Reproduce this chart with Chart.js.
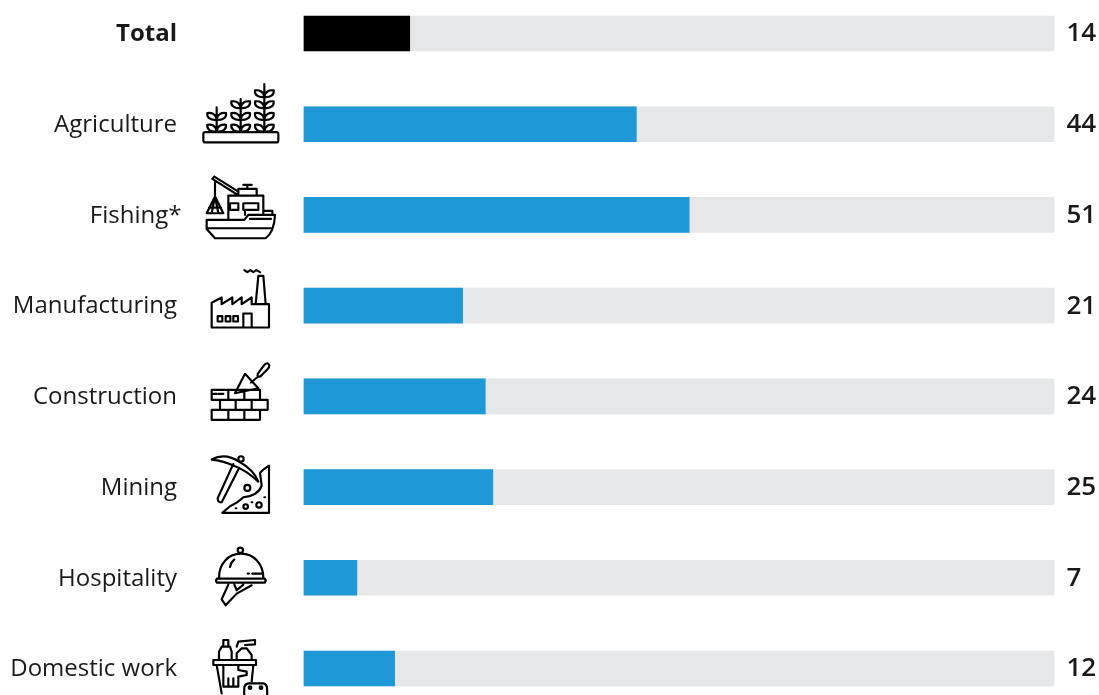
<!DOCTYPE html>
<html>
<head>
<meta charset="utf-8">
<style>
  html, body { margin: 0; padding: 0; background: #fff; overflow: hidden; }
  #wrap { position: relative; width: 1099px; height: 695px; }
</style>
<script src="https://cdn.jsdelivr.net/npm/chart.js@4"></script>
</head>
<body>
<div id="wrap"><canvas id="chart" width="1099" height="695"></canvas></div>
<script>
const categories = ['Total', 'Agriculture', 'Fishing*', 'Manufacturing', 'Construction', 'Mining', 'Hospitality', 'Domestic work'];
const shares = [14, 44, 51, 21, 24, 25, 7, 12];
const trackValues = [99.3, 99.3, 99.3, 99.3, 99.3, 99.3, 99.3, 99.3];
const barColors = ['#000000', '#1e98d7', '#1e98d7', '#1e98d7', '#1e98d7', '#1e98d7', '#1e98d7', '#1e98d7'];

// Leaf pair on a plant stem; drawing units are thirds of a pixel.
function leaves(x, y) {
  return `M${x} ${y + 12}C${x - 2} ${y - 6} ${x - 16} ${y - 10} ${x - 28} ${y - 8}C${x - 30} ${y + 6} ${x - 18} ${y + 14} ${x} ${y + 12}Z` +
         `M${x} ${y + 12}C${x + 2} ${y - 6} ${x + 16} ${y - 10} ${x + 28} ${y - 8}C${x + 30} ${y + 6} ${x + 18} ${y + 14} ${x} ${y + 12}Z`;
}
function circle(x, y, r) {
  return `M${x + r} ${y}A${r} ${r} 0 1 0 ${x - r} ${y}A${r} ${r} 0 1 0 ${x + r} ${y}Z`;
}

// Sector pictograms, each with its vertical offset from the row centre.
const icons = {
  Agriculture: { dy: -49.5, d:
    'M31 172H244Q250 172 250 178V197Q250 203 244 203H31Q25 203 25 197V178Q25 172 31 172Z' +
    'M65 98V172M137 73V172M208 28V172' +
    leaves(65, 123) + leaves(65, 158) +
    leaves(137, 88) + leaves(137, 123) + leaves(137, 158) +
    leaves(208, 55) + leaves(208, 88) + leaves(208, 123) + leaves(208, 158) },
  'Fishing*': { dy: -140, d:
    'M35 435V462L60 490H212Q238 470 240 420H160L148 435Z' +
    'M38 460H228M150 420V407M100 430V362H205V408' +
    'M130 362V342H185V362M157 342V330M145 330H170' +
    'M105 385H130V405H105ZM145 385H190V405H145Z' +
    'M52 312L125 358M58 305L130 350M52 312L58 305' +
    'M60 322V365L35 415H85L60 365M60 365L50 415M60 365L70 415M42 398H78' +
    'M165 432H228M205 420V408H232V420' },
  Manufacturing: { dy: -45.5, d:
    'M50 202V128L80 112V132L112 112V132L140 112V132L170 112V132H222V202Z' +
    'M182 132L190 47H205L212 132' +
    'M148 30L157 36L166 30L175 36L184 30L195 36' +
    'M68 168H82V184H68ZM92 168H106V184H92ZM115 168H129V184H115Z' +
    'M145 202V160H170V202' },
  Construction: { dy: -136.5, d:
    'M50 390H195V420H50ZM75 420H218V450H75ZM50 450H195V480H50Z' +
    'M100 390V420M148 390V420M122 420V450M170 420V450M100 450V480M148 450V480' +
    'M150 342L120 400L190 385Z' +
    'M168 368L190 350' +
    'M188 342L208 315Q218 306 223 316Q224 322 216 330L196 350Q186 352 188 342Z' +
    'M55 402H65M70 402H85' },
  Mining: { dy: -41.5, d:
    'M50 42Q90 20 135 50Q175 72 190 108Q150 72 120 62Q85 45 50 42Z' +
    'M115 55L68 158Q68 172 80 170L132 68' +
    circle(138, 40, 8) +
    'M222 60V202H82L105 182Q130 170 145 155Q190 150 200 120L195 82L205 72Z' +
    circle(157, 127, 9) + circle(152, 183, 7) + circle(192, 178, 8) +
    'M122 188H124M170 170H172M208 155H210' },
  Hospitality: { dy: -132.5, d:
    'M72 398C72 355 100 325 138 325C176 325 205 355 205 398' +
    circle(136, 315, 8) +
    'M66 400H209Q215 406 209 412H66Q60 406 66 400Z' +
    'M105 365Q108 350 118 343M158 385H162M172 385H200' +
    'M100 418L80 462L92 480L125 445L170 420M118 418L125 435L145 418' },
  'Domestic work': { dy: -43.5, d:
    'M55 105H183V120H55Z' +
    'M65 120L80 205M175 120L170 170' +
    'M85 45H100V65H85ZM80 65H105L110 80V105H72V80Z' +
    'M125 65L130 50L180 45V58L150 60M125 105V85L140 70H155L170 90V105' +
    'M85 120V185H130V155L155 150V140L130 135V120' +
    'M100 160V185M115 160V185' },
};

// Sponge sits in front of the bucket, so it is filled white.
const spongePath = 'M160 175H205Q218 178 216 195Q218 205 215 215H150Q146 205 148 195Q146 178 160 175Z' +
                   circle(165, 188, 4) + circle(198, 188, 4);

const sectorIcons = {
  id: 'sectorIcons',
  afterDraw(chart) {
    const { ctx } = chart;
    const meta = chart.getDatasetMeta(1);
    ctx.save();
    ctx.lineJoin = 'round';
    ctx.lineCap = 'round';
    ctx.strokeStyle = '#000';
    categories.forEach((name, i) => {
      const icon = icons[name];
      if (!icon) return;
      ctx.save();
      ctx.translate(195, meta.data[i].y + icon.dy);
      ctx.scale(1 / 3, 1 / 3);
      ctx.lineWidth = 6.5;
      ctx.stroke(new Path2D(icon.d));
      if (name === 'Domestic work') {
        const sponge = new Path2D(spongePath);
        ctx.fillStyle = '#fff';
        ctx.fill(sponge);
        ctx.stroke(sponge);
      }
      ctx.restore();
    });
    ctx.restore();
  }
};

// Category names sit right-aligned in the left gutter; the footnote asterisk hangs past the edge.
const categoryLabels = {
  id: 'categoryLabels',
  afterDatasetsDraw(chart) {
    const { ctx } = chart;
    const yScale = chart.scales.y;
    ctx.save();
    ctx.fillStyle = '#1a1a1a';
    ctx.textAlign = 'right';
    ctx.textBaseline = 'middle';
    categories.forEach((name, i) => {
      ctx.font = `${i === 0 ? 700 : 400} 24px "Open Sans"`;
      const hang = name.endsWith('*') ? 4.5 : 0;
      ctx.fillText(name, 177 + hang, yScale.getPixelForTick(i) + 1);
    });
    ctx.restore();
  }
};

const valueLabels = {
  id: 'valueLabels',
  afterDatasetsDraw(chart) {
    const { ctx } = chart;
    const meta = chart.getDatasetMeta(1);
    ctx.save();
    ctx.font = '600 26px "Open Sans"';
    ctx.fillStyle = '#1a1a1a';
    ctx.textAlign = 'left';
    ctx.textBaseline = 'middle';
    shares.forEach((v, i) => ctx.fillText(String(v), 1066.5, meta.data[i].y + 0.5));
    ctx.restore();
  }
};

new Chart(document.getElementById('chart'), {
  type: 'bar',
  data: {
    labels: categories,
    datasets: [
      { label: 'Track', data: trackValues, backgroundColor: '#e6e7e8', order: 2, clip: false },
      { label: 'Share', data: shares, backgroundColor: barColors, order: 1, clip: false },
    ],
  },
  plugins: [categoryLabels, valueLabels, sectorIcons],
  options: {
    indexAxis: 'y',
    responsive: false,
    animation: false,
    grouped: false,
    barThickness: 35,
    borderSkipped: false,
    layout: { padding: { top: 33.5, bottom: 26.5, right: 45, left: 0 } },
    plugins: { legend: { display: false }, tooltip: { enabled: false } },
    scales: {
      x: { min: 0, max: 99.3, display: false },
      y: {
        offset: false,
        border: { display: false },
        grid: { display: false, drawTicks: false },
        ticks: { display: false, autoSkip: false },
        afterFit(scale) {
          scale.width = 304;
          scale.paddingTop = 0;
          scale.paddingBottom = 0;
        },
      },
    },
  },
});
</script>
</body>
</html>
